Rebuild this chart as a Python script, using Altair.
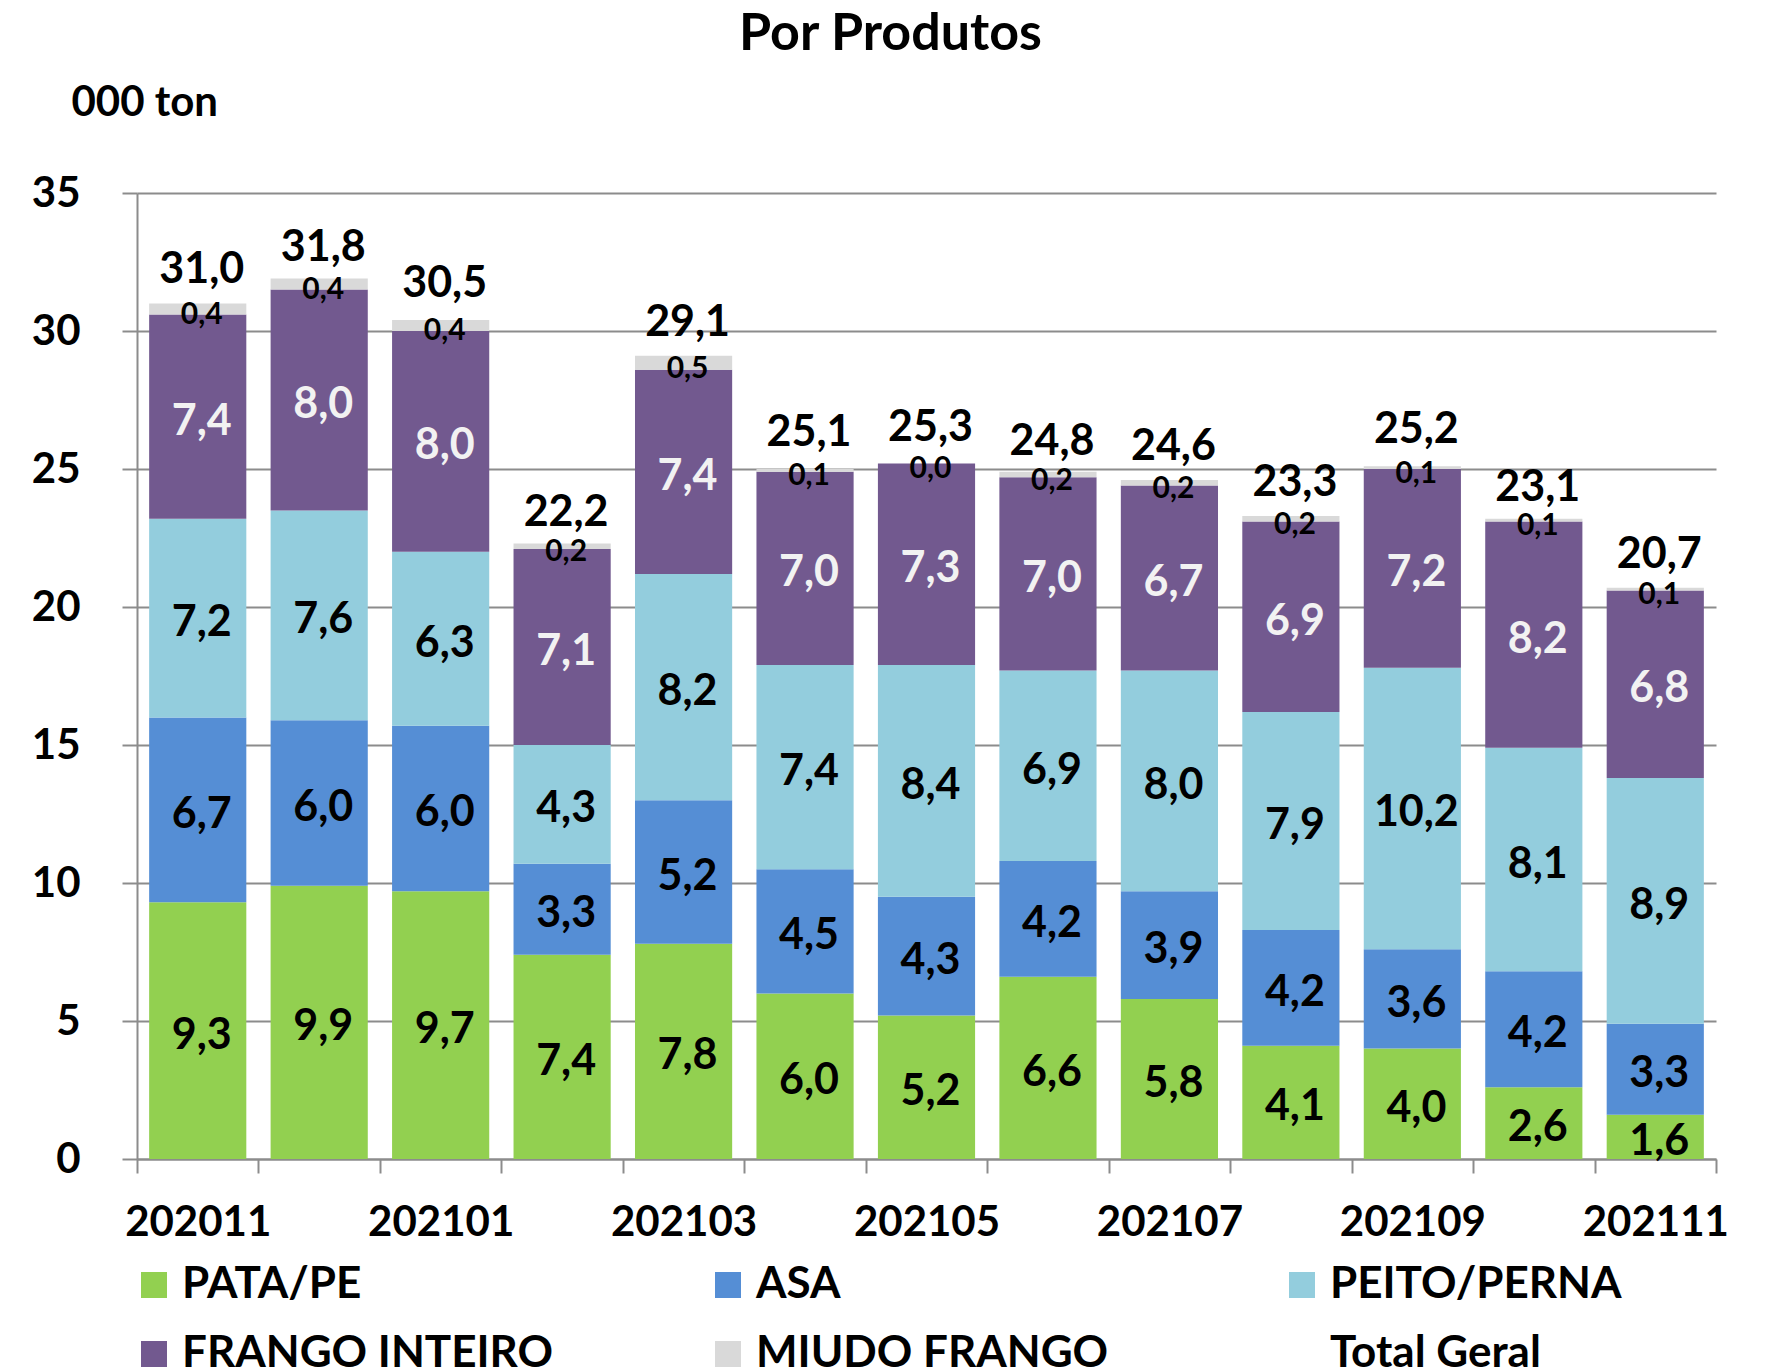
import altair as alt
import pandas as pd

months = ["202011", "202012", "202101", "202102", "202103", "202104", "202105",
          "202106", "202107", "202108", "202109", "202110", "202111"]
series = ["PATA/PE", "ASA", "PEITO/PERNA", "FRANGO INTEIRO", "MIUDO FRANGO"]
pata = [9.3, 9.9, 9.7, 7.4, 7.8, 6.0, 5.2, 6.6, 5.8, 4.1, 4.0, 2.6, 1.6]
asa = [6.7, 6.0, 6.0, 3.3, 5.2, 4.5, 4.3, 4.2, 3.9, 4.2, 3.6, 4.2, 3.3]
peito = [7.2, 7.6, 6.3, 4.3, 8.2, 7.4, 8.4, 6.9, 8.0, 7.9, 10.2, 8.1, 8.9]
frango = [7.4, 8.0, 8.0, 7.1, 7.4, 7.0, 7.3, 7.0, 6.7, 6.9, 7.2, 8.2, 6.8]
miudo = [0.4, 0.4, 0.4, 0.2, 0.5, 0.1, 0.0, 0.2, 0.2, 0.2, 0.1, 0.1, 0.1]
total = [31.0, 31.8, 30.5, 22.2, 29.1, 25.1, 25.3, 24.8, 24.6, 23.3, 25.2, 23.1, 20.7]
legend_items = series + ["Total Geral"]
colors = ["#92D050", "#558ED5", "#93CDDD", "#72598F", "#D9D9D9", "transparent"]

rows = []
for i, m in enumerate(months):
    for k, vals in enumerate([pata, asa, peito, frango, miudo]):
        rows.append({"mes": m, "serie": series[k], "ordem": k, "valor": vals[i]})
df = pd.DataFrame(rows)
tot = pd.DataFrame({"mes": months, "total": total})

FONT = "Lato"
GRID = "#8C8C8C"
W, H = 1579, 966

xaxis = alt.Axis(
    title=None, labelAngle=0, labelOverlap=False,
    labelExpr="toNumber(datum.value) % 2 == 1 ? datum.label : ''",
    tickBand="extent", tickSize=14, tickWidth=2, tickColor=GRID,
    domainColor=GRID, domainWidth=2, labelPadding=29,
    labelFont=FONT, labelFontSize=42, labelFontWeight="bold", labelColor="black",
    grid=False,
)
xscale = alt.Scale(paddingInner=0, paddingOuter=0)
xenc = alt.X("mes:N", sort=months, scale=xscale, axis=xaxis)

yscale = alt.Scale(domain=[0, 35], nice=False)
yaxis = alt.Axis(
    values=[0, 5, 10, 15, 20, 25, 30, 35], title="000 ton",
    titleAngle=0, titleAlign="left", titleBaseline="middle",
    titleX=-66, titleY=-91, titleFont=FONT, titleFontSize=42,
    titleFontWeight="bold", titleColor="black",
    grid=True, gridColor=GRID, gridWidth=2,
    domainColor=GRID, domainWidth=2, tickColor=GRID, tickWidth=2, tickSize=15,
    labelPadding=42, labelFont=FONT, labelFontSize=42, labelFontWeight="bold",
    labelColor="black",
)

bars = alt.Chart(df).mark_bar(width=alt.RelativeBandSize(0.8)).encode(
    x=xenc,
    y=alt.Y("valor:Q", stack="zero", scale=yscale, axis=yaxis),
    color=alt.Color(
        "serie:N",
        scale=alt.Scale(domain=legend_items, range=colors),
        legend=alt.Legend(
            title=None, orient="none", legendX=-5, legendY=1070, columns=3,
            direction="horizontal",
            symbolType="square", symbolSize=676, symbolStrokeWidth=0,
            labelFont=FONT, labelFontSize=44, labelFontWeight="bold", labelColor="black",
            labelOffset=6, columnPadding=153, rowPadding=25, gridAlign="all",
            labelLimit=700, padding=0,
        ),
    ),
    order=alt.Order("ordem:Q", sort="ascending"),
)

seg_base = alt.Chart(df).transform_stack(
    stack="valor", groupby=["mes"], sort=[alt.SortField("ordem")], as_=["y0", "y1"]
).transform_calculate(
    mid="(datum.y0 + datum.y1) / 2",
    lab="replace(format(datum.valor, '.1f'), '.', ',')",
)

seg_main = seg_base.transform_filter("datum.ordem < 4").mark_text(
    font=FONT, fontSize=43, fontWeight="bold", baseline="middle", align="center",
    dx=4, dy=5,
).encode(
    x=alt.X("mes:N", sort=months, scale=xscale, axis=xaxis),
    y=alt.Y("mid:Q", scale=yscale, axis=yaxis),
    text="lab:N",
    color=alt.when(alt.datum.ordem == 3).then(alt.value("#F2F2F2")).otherwise(alt.value("black")),
)

seg_small = seg_base.transform_filter("datum.ordem == 4").mark_text(
    font=FONT, fontSize=30, fontWeight="bold", baseline="middle", align="center",
    dx=4, dy=6, color="black",
).encode(
    x=alt.X("mes:N", sort=months, scale=xscale, axis=xaxis),
    y=alt.Y("mid:Q", scale=yscale, axis=yaxis),
    text="lab:N",
)

tot_text = alt.Chart(tot).transform_calculate(
    lab="replace(format(datum.total, '.1f'), '.', ',')"
).mark_text(
    font=FONT, fontSize=43, fontWeight="bold", baseline="alphabetic", align="center",
    dx=4, dy=-20, color="black",
).encode(
    x=alt.X("mes:N", sort=months, scale=xscale, axis=xaxis),
    y=alt.Y("total:Q", scale=yscale, axis=yaxis),
    text="lab:N",
)

chart = alt.layer(bars, seg_main, seg_small, tot_text).properties(
    width=W, height=H,
    autosize=alt.AutoSizeParams(type="none"),
    padding={"left": 129, "top": 185, "right": 40, "bottom": 214},
    title=alt.TitleParams(
        "Por Produtos", font=FONT, fontSize=52, fontWeight="bold", color="black",
        anchor="middle", dx=-36, offset=20,
    ),
).configure_view(strokeWidth=0)

chart.save("out.html", embed_options={"renderer": "svg", "actions": False})
